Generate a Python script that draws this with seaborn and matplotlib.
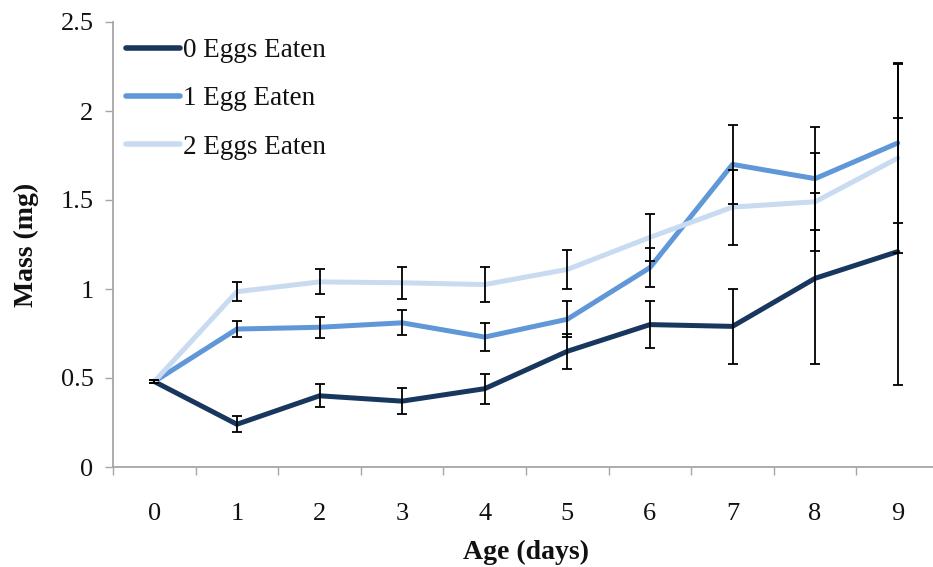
import numpy as np
import pandas as pd
import matplotlib
matplotlib.use("Agg")
import matplotlib.pyplot as plt
import seaborn as sns

# Mean larval mass by age for each feeding group, with error-bar half widths
days = [0, 1, 2, 3, 4, 5, 6, 7, 8, 9]
groups = ["0 Eggs Eaten", "1 Egg Eaten", "2 Eggs Eaten"]
mass_0 = [0.48, 0.24, 0.40, 0.37, 0.44, 0.65, 0.80, 0.79, 1.06, 1.21]
err_0 = [0.01, 0.045, 0.065, 0.075, 0.085, 0.10, 0.13, 0.21, 0.48, 0.75]
mass_1 = [0.48, 0.775, 0.785, 0.81, 0.73, 0.83, 1.12, 1.70, 1.62, 1.82]
err_1 = [0.01, 0.045, 0.06, 0.07, 0.08, 0.10, 0.11, 0.22, 0.29, 0.45]
mass_2 = [0.48, 0.985, 1.04, 1.035, 1.025, 1.11, 1.29, 1.46, 1.49, 1.735]
err_2 = [0.01, 0.055, 0.07, 0.09, 0.10, 0.11, 0.13, 0.21, 0.275, 0.53]
y_ticks = [0, 0.5, 1, 1.5, 2, 2.5]
y_tick_labels = ["0", "0.5", "1", "1.5", "2", "2.5"]

colors = ["#17375E", "#5F97D8", "#C9DBF1"]

df = pd.concat(
    [
        pd.DataFrame({"day": days, "mass": m, "err": e, "group": g})
        for g, m, e in zip(groups, [mass_0, mass_1, mass_2], [err_0, err_1, err_2])
    ],
    ignore_index=True,
)

sns.set_theme(style="white")
plt.rcParams["font.family"] = ["Liberation Serif", "DejaVu Serif"]

W, H = 933, 567
fig = plt.figure(figsize=(W / 100, H / 100), dpi=100)
left, right, bottom, top = 113, 939, 467, 22
ax = fig.add_axes([left / W, (H - bottom) / H, (right - left) / W, (bottom - top) / H])

sns.lineplot(
    data=df, x="day", y="mass", hue="group", hue_order=groups,
    palette=colors, linewidth=3.6, ax=ax, errorbar=None,
    solid_capstyle="round", solid_joinstyle="round",
)

for g in groups:
    sub = df[df["group"] == g]
    ax.errorbar(
        sub["day"], sub["mass"], yerr=sub["err"], fmt="none",
        ecolor="black", elinewidth=1.3, capsize=3.6, capthick=1.3, zorder=5,
    )

ax.set_xlim(-0.5, 9.5)
ax.set_ylim(0, 2.5)

# Category axis: ticks on the boundaries, labels in the middle
ax.set_xticks(np.arange(-0.5, 10, 1))
ax.set_xticklabels([])
ax.set_xticks(days, minor=True)
ax.set_xticklabels([str(d) for d in days], minor=True)
ax.tick_params(axis="x", which="major", direction="out", length=6, width=1, color="#A6A6A6", bottom=True)
ax.tick_params(axis="x", which="minor", length=0, pad=26, labelsize=19, colors="#111111")

ax.set_yticks(y_ticks)
ax.set_yticklabels(y_tick_labels)
ax.tick_params(axis="y", direction="out", length=6, width=1, color="#A6A6A6", left=True, pad=8,
               labelsize=19, labelcolor="#111111")

for side in ["top", "right"]:
    ax.spines[side].set_visible(False)
for side in ["left", "bottom"]:
    ax.spines[side].set_color("#A6A6A6")
    ax.spines[side].set_linewidth(1.3)

ax.set_xlabel("Age (days)", fontsize=20, fontweight="bold", color="#111111")
ax.set_ylabel("Mass (mg)", fontsize=20, fontweight="bold", color="#111111")
ax.xaxis.set_label_coords(0.5, -0.164)
ax.yaxis.set_label_coords(-0.0896, 0.5)

leg = ax.legend(
    loc="upper left", bbox_to_anchor=(0.016, 0.963), frameon=False,
    fontsize=19.5, handlelength=2.0, handletextpad=0.1, labelspacing=0.85,
    borderpad=0, borderaxespad=0,
)
for line in leg.get_lines():
    line.set_linewidth(4)
for t in leg.get_texts():
    t.set_color("#111111")

fig.savefig("out.png", dpi=100)
